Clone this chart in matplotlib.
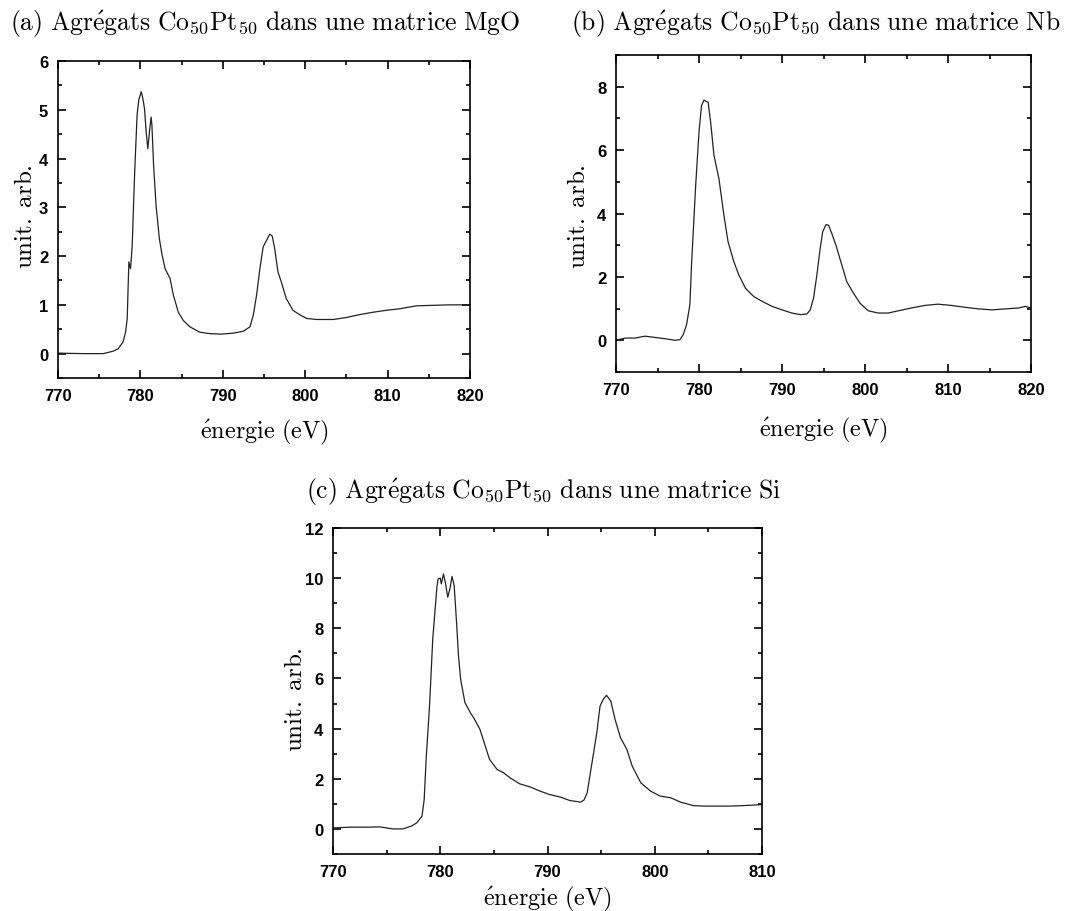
import matplotlib
matplotlib.use("Agg")
import matplotlib.pyplot as plt
from matplotlib.ticker import MultipleLocator

plt.rcParams['mathtext.fontset'] = 'cm'

# ---- data ----
energy_a = [770, 773, 775.5, 776.7, 777.3, 777.9, 778.2, 778.4, 778.6, 778.8, 779.0, 779.3, 779.6,
            779.8, 780.1, 780.3, 780.5, 780.7, 780.9, 781.1, 781.3, 781.4, 781.6, 781.9, 782.3,
            782.6, 783.0, 783.6, 784.0, 784.6, 785.2, 786.0, 787.2, 788.4, 789.8, 791.3, 792.5,
            793.3, 793.7, 794.1, 794.5, 794.9, 795.3, 795.7, 796.0, 796.3, 796.7, 797.1, 797.7,
            798.5, 799.4, 800.2, 801.4, 803.4, 805.0, 806.6, 808.3, 809.9, 811.5, 813.5, 815.5,
            817.5, 820]
signal_a = [0.01, 0.0, 0.0, 0.05, 0.1, 0.24, 0.44, 0.72, 1.88, 1.74, 2.2, 3.7, 4.9,
            5.2, 5.37, 5.23, 5.02, 4.55, 4.2, 4.55, 4.85, 4.68, 3.86, 3.04, 2.36,
            2.05, 1.74, 1.54, 1.2, 0.85, 0.68, 0.55, 0.44, 0.41, 0.40, 0.42, 0.46,
            0.55, 0.79, 1.2, 1.74, 2.19, 2.32, 2.45, 2.41, 2.15, 1.67, 1.47, 1.13,
            0.89, 0.79, 0.72, 0.70, 0.70, 0.74, 0.80, 0.85, 0.89, 0.92, 0.98, 0.99,
            1.0, 1.0]

energy_b = [770, 771.1, 772.3, 773.5, 774.7, 775.9, 777.1, 777.7, 778.1, 778.5, 778.9, 779.1,
            779.6, 780.0, 780.3, 780.6, 780.9, 781.1, 781.4, 781.8, 782.4, 783.0, 783.5, 784.2,
            784.8, 785.6, 786.6, 787.6, 788.8, 790.0, 791.2, 792.2, 793.0, 793.4, 793.8, 794.2,
            794.6, 794.9, 795.3, 795.6, 796.0, 796.5, 797.2, 797.8, 798.6, 799.4, 800.4, 801.6,
            802.8, 804.0, 805.6, 807.2, 808.8, 810.4, 812.1, 813.7, 815.3, 816.9, 818.5, 819.3,
            820]
signal_b = [0.0, 0.07, 0.07, 0.13, 0.09, 0.05, 0.0, 0.02, 0.18, 0.49, 1.12, 2.38,
            4.89, 6.57, 7.4, 7.58, 7.53, 7.51, 6.89, 5.84, 5.1, 3.95, 3.11, 2.48,
            2.06, 1.64, 1.38, 1.23, 1.07, 0.96, 0.86, 0.81, 0.83, 0.96, 1.33, 2.06,
            2.9, 3.42, 3.65, 3.63, 3.37, 3.0, 2.38, 1.85, 1.49, 1.17, 0.93, 0.86,
            0.86, 0.93, 1.02, 1.1, 1.14, 1.1, 1.04, 0.99, 0.96, 0.99, 1.02, 1.07,
            1.02]

energy_c = [770, 771.6, 773.1, 774.4, 775.6, 776.5, 777.3, 777.8, 778.3, 778.5, 778.7, 779.0,
            779.3, 779.7, 779.8, 780.0, 780.1, 780.3, 780.5, 780.7, 780.9, 781.1, 781.3, 781.5,
            781.7, 781.9, 782.3, 782.8, 783.2, 783.7, 784.2, 784.6, 785.3, 785.9, 786.5, 787.4,
            788.4, 789.3, 790.2, 791.2, 792.1, 793.1, 793.4, 793.7, 794.0, 794.3, 794.6, 794.9,
            795.2, 795.5, 795.9, 796.3, 796.8, 797.4, 797.9, 798.7, 799.6, 800.5, 801.5, 802.4,
            803.6, 804.6, 805.8, 807.1, 808.3, 810]
signal_c = [0.04, 0.07, 0.07, 0.08, 0.0, 0.0, 0.11, 0.24, 0.51, 1.17, 2.9, 4.9,
            7.57, 9.7, 9.97, 10.0, 9.77, 10.17, 9.77, 9.24, 9.57, 10.07, 9.7, 8.37,
            6.9, 5.97, 5.04, 4.64, 4.37, 3.97, 3.3, 2.77, 2.37, 2.24, 2.04, 1.8,
            1.67, 1.51, 1.37, 1.27, 1.13, 1.07, 1.15, 1.44, 2.24, 3.04, 3.84, 4.9,
            5.17, 5.33, 5.1, 4.37, 3.64, 3.17, 2.5, 1.84, 1.51, 1.31, 1.24, 1.07,
            0.93, 0.91, 0.91, 0.91, 0.93, 0.97]

titles = [r"$\mathrm{(a)\ Agr\acute{e}gats\ Co_{50}Pt_{50}\ dans\ une\ matrice\ MgO}$",
          r"$\mathrm{(b)\ Agr\acute{e}gats\ Co_{50}Pt_{50}\ dans\ une\ matrice\ Nb}$",
          r"$\mathrm{(c)\ Agr\acute{e}gats\ Co_{50}Pt_{50}\ dans\ une\ matrice\ Si}$"]
xlabel = r"$\mathrm{\acute{e}nergie\ (eV)}$"
ylabel = r"$\mathrm{unit.\;arb.}$"

W, H = 1089, 912
fig = plt.figure(figsize=(W / 100, H / 100), dpi=100)

def px_axes(l, t, r, b):
    return fig.add_axes([l / W, 1 - b / H, (r - l) / W, (b - t) / H])

panels = [
    dict(box=(58, 62, 470, 379), x=energy_a, y=signal_a, xlim=(770, 820), ylim=(-0.5, 6),
         ymaj=1, ymin=0.5, xmaj=10, xmin=5, title=titles[0], tpos=(265, 24),
         ylpos=(25, 217), xlpos=(264, 432)),
    dict(box=(616, 56, 1031, 373), x=energy_b, y=signal_b, xlim=(770, 820), ylim=(-1, 9),
         ymaj=2, ymin=1, xmaj=10, xmin=5, title=titles[1], tpos=(816, 24),
         ylpos=(578, 217), xlpos=(823, 430)),
    dict(box=(333, 529, 762, 855), x=energy_c, y=signal_c, xlim=(770, 810), ylim=(-1, 12),
         ymaj=2, ymin=1, xmaj=10, xmin=5, title=titles[2], tpos=(543, 492),
         ylpos=(295, 700), xlpos=(547, 899)),
]

for p in panels:
    ax = px_axes(*p['box'])
    ax.plot(p['x'], p['y'], color='#222222', lw=0.9)
    ax.set_xlim(*p['xlim'])
    ax.set_ylim(*p['ylim'])
    ax.xaxis.set_major_locator(MultipleLocator(p['xmaj']))
    ax.xaxis.set_minor_locator(MultipleLocator(p['xmin']))
    ax.yaxis.set_major_locator(MultipleLocator(p['ymaj']))
    ax.yaxis.set_minor_locator(MultipleLocator(p['ymin']))
    ax.tick_params(which='both', direction='in', top=True, right=True, width=1.2)
    ax.tick_params(which='major', length=6, pad=7)
    ax.tick_params(which='minor', length=3)
    for lab in ax.get_xticklabels() + ax.get_yticklabels():
        lab.set_fontfamily('Liberation Sans')
        lab.set_fontweight('bold')
        lab.set_fontsize(12)
    for s in ax.spines.values():
        s.set_linewidth(1.2)
    fig.text(p['tpos'][0] / W, 1 - p['tpos'][1] / H, p['title'], ha='center', va='center', fontsize=18.5)
    fig.text(p['ylpos'][0] / W, 1 - p['ylpos'][1] / H, ylabel, ha='center', va='center',
             rotation=90, fontsize=18)
    fig.text(p['xlpos'][0] / W, 1 - p['xlpos'][1] / H, xlabel, ha='center', va='center', fontsize=17.5)

fig.savefig("out.png", dpi=100)
